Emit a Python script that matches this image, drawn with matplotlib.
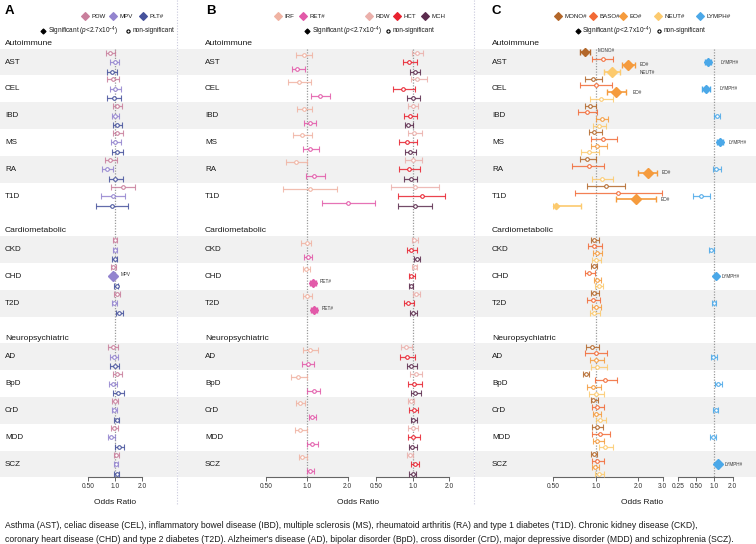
import matplotlib
matplotlib.use('Agg')
import matplotlib.pyplot as plt
import numpy as np

plt.rcParams['font.family'] = ['Liberation Sans', 'DejaVu Sans']
plt.rcParams['mathtext.fontset'] = 'custom'
plt.rcParams['mathtext.rm'] = 'Liberation Sans'
plt.rcParams['mathtext.it'] = 'Liberation Sans:italic'

# ---------------- data ----------------
diseases = ['AST', 'CEL', 'IBD', 'MS', 'RA', 'T1D', 'CKD', 'CHD', 'T2D',
            'AD', 'BpD', 'CrD', 'MDD', 'SCZ']
groups = ['Autoimmune', 'Cardiometabolic', 'Neuropsychiatric']
group_of = [0, 0, 0, 0, 0, 0, 1, 1, 1, 2, 2, 2, 2, 2]

PDW_or = [0.88, 0.96, 1.04, 1.06, 0.88, 1.22, 1.00, 0.94, 1.04, 0.96, 1.04, 1.00, 0.98, 1.03]
PDW_lo = [0.79, 0.81, 0.96, 0.96, 0.77, 0.90, 0.94, 0.90, 0.98, 0.84, 0.96, 0.93, 0.90, 0.97]
PDW_hi = [1.00, 1.12, 1.20, 1.22, 1.04, 1.69, 1.06, 1.03, 1.14, 1.09, 1.19, 1.07, 1.09, 1.11]
MPV_or = [1.00, 1.00, 1.00, 1.00, 0.81, 0.96, 1.00, 0.94, 0.98, 0.97, 0.96, 0.98, 0.90, 1.03]
MPV_lo = [0.88, 0.89, 0.92, 0.90, 0.71, 0.70, 0.94, 0.915, 0.93, 0.88, 0.86, 0.93, 0.84, 0.97]
MPV_hi = [1.11, 1.18, 1.11, 1.16, 0.96, 1.30, 1.06, 0.965, 1.06, 1.09, 1.06, 1.04, 1.00, 1.09]
PLT_or = [0.92, 0.98, 1.04, 1.04, 1.00, 0.92, 1.00, 1.04, 1.10, 1.00, 1.09, 1.04, 1.12, 1.04]
PLT_lo = [0.81, 0.81, 0.96, 0.93, 0.86, 0.61, 0.92, 0.98, 1.02, 0.88, 0.96, 0.97, 1.01, 0.97]
PLT_hi = [1.06, 1.17, 1.19, 1.24, 1.22, 1.41, 1.06, 1.09, 1.22, 1.12, 1.26, 1.12, 1.26, 1.12]

IRF_or = [0.955, 0.88, 0.95, 0.93, 0.83, 1.05, 1.00, 0.98, 1.00, 1.05, 0.86, 0.90, 0.90, 0.93]
IRF_lo = [0.84, 0.73, 0.85, 0.79, 0.70, 0.67, 0.91, 0.94, 0.94, 0.94, 0.77, 0.83, 0.82, 0.88]
IRF_hi = [1.10, 1.08, 1.09, 1.10, 1.00, 1.67, 1.08, 1.05, 1.09, 1.21, 1.00, 0.97, 1.01, 1.00]
RET_or = [0.85, 1.26, 1.05, 1.06, 1.14, 2.01, 1.02, 1.11, 1.13, 1.02, 1.13, 1.10, 1.10, 1.05]
RET_lo = [0.78, 1.07, 0.95, 0.94, 0.98, 1.30, 0.95, 1.06, 1.07, 0.92, 1.01, 1.04, 1.00, 1.00]
RET_hi = [0.97, 1.49, 1.18, 1.23, 1.36, 3.16, 1.10, 1.17, 1.19, 1.14, 1.26, 1.18, 1.21, 1.13]

RDW_or = [1.08, 1.09, 1.00, 1.03, 1.01, 1.04, 1.03, 1.04, 1.07, 0.88, 1.06, 0.96, 1.00, 0.95]
RDW_lo = [0.98, 0.96, 0.91, 0.92, 0.87, 0.66, 0.98, 0.99, 1.00, 0.80, 0.95, 0.91, 0.91, 0.90]
RDW_hi = [1.21, 1.31, 1.10, 1.19, 1.19, 1.66, 1.11, 1.09, 1.15, 0.99, 1.19, 1.03, 1.10, 1.01]
HCT_or = [0.94, 0.83, 0.95, 0.90, 0.94, 1.19, 0.96, 0.96, 0.92, 0.89, 1.03, 1.03, 1.01, 1.04]
HCT_lo = [0.83, 0.68, 0.85, 0.77, 0.77, 0.76, 0.89, 0.93, 0.85, 0.78, 0.91, 0.94, 0.91, 0.97]
HCT_hi = [1.09, 1.04, 1.09, 1.08, 1.15, 1.86, 1.08, 1.04, 1.03, 1.05, 1.20, 1.11, 1.15, 1.13]
MCH_or = [1.04, 1.01, 0.92, 0.95, 0.96, 1.04, 1.08, 0.96, 1.01, 0.97, 1.05, 1.01, 0.99, 1.00]
MCH_lo = [0.95, 0.89, 0.86, 0.86, 0.85, 0.75, 1.03, 0.94, 0.95, 0.90, 0.97, 0.96, 0.94, 0.94]
MCH_hi = [1.14, 1.16, 1.00, 1.07, 1.09, 1.44, 1.15, 1.01, 1.09, 1.08, 1.17, 1.08, 1.08, 1.06]

MONO_or = [0.84, 0.955, 0.91, 0.98, 0.87, 1.19, 0.98, 0.98, 0.98, 0.94, 0.86, 0.965, 1.02, 0.98]
MONO_lo = [0.78, 0.84, 0.84, 0.89, 0.77, 0.87, 0.93, 0.92, 0.92, 0.86, 0.81, 0.92, 0.95, 0.93]
MONO_hi = [0.91, 1.11, 1.00, 1.11, 1.01, 1.62, 1.05, 1.03, 1.05, 1.05, 0.90, 1.04, 1.12, 1.03]
BASO_or = [1.12, 1.00, 0.87, 1.12, 0.89, 1.45, 0.98, 0.89, 0.955, 1.00, 1.17, 1.02, 1.08, 1.03]
BASO_lo = [0.95, 0.78, 0.75, 0.92, 0.68, 0.71, 0.88, 0.84, 0.87, 0.84, 0.99, 0.94, 0.94, 0.95]
BASO_hi = [1.34, 1.30, 1.02, 1.41, 1.15, 2.95, 1.11, 0.99, 1.08, 1.20, 1.41, 1.14, 1.27, 1.14]
EO_or = [1.71, 1.40, 1.11, 1.03, 2.35, 1.94, 1.02, 1.02, 1.01, 1.01, 0.965, 1.01, 1.03, 0.99]
EO_lo = [1.53, 1.20, 1.01, 0.92, 2.01, 1.40, 0.96, 0.98, 0.95, 0.91, 0.87, 0.96, 0.96, 0.94]
EO_hi = [1.91, 1.65, 1.23, 1.20, 2.75, 2.69, 1.11, 1.09, 1.09, 1.14, 1.09, 1.09, 1.14, 1.06]
NEUT_or = [1.30, 1.09, 1.05, 0.90, 1.11, 0.52, 1.01, 1.05, 0.98, 1.03, 1.00, 1.08, 1.17, 1.05]
NEUT_lo = [1.15, 0.91, 0.96, 0.79, 0.94, 0.50, 0.94, 0.99, 0.91, 0.93, 0.90, 1.01, 1.06, 0.99]
NEUT_hi = [1.48, 1.32, 1.19, 1.06, 1.32, 0.79, 1.09, 1.12, 1.08, 1.20, 1.15, 1.19, 1.32, 1.14]
LYMPH_or = [0.80, 0.73, 1.09, 1.24, 1.07, 0.60, 0.88, 1.07, 0.99, 0.96, 1.16, 1.07, 0.96, 1.14]
LYMPH_lo = [0.70, 0.62, 1.00, 1.12, 0.94, 0.45, 0.82, 1.02, 0.93, 0.87, 1.03, 0.96, 0.85, 1.08]
LYMPH_hi = [0.87, 0.85, 1.24, 1.41, 1.27, 0.85, 1.00, 1.12, 1.07, 1.09, 1.32, 1.16, 1.07, 1.21]

significant = {
    'MPV': ['CHD'],
    'RET#': ['CHD', 'T2D'],
    'MONO#': ['AST'],
    'EO#': ['AST', 'CEL', 'RA', 'T1D'],
    'NEUT#': ['AST', 'T1D'],
    'LYMPH#': ['AST', 'CEL', 'MS', 'CHD', 'SCZ'],
}

series_data = {
    'PDW': (PDW_or, PDW_lo, PDW_hi), 'MPV': (MPV_or, MPV_lo, MPV_hi),
    'PLT#': (PLT_or, PLT_lo, PLT_hi), 'IRF': (IRF_or, IRF_lo, IRF_hi),
    'RET#': (RET_or, RET_lo, RET_hi), 'RDW': (RDW_or, RDW_lo, RDW_hi),
    'HCT': (HCT_or, HCT_lo, HCT_hi), 'MCH': (MCH_or, MCH_lo, MCH_hi),
    'MONO#': (MONO_or, MONO_lo, MONO_hi), 'BASO#': (BASO_or, BASO_lo, BASO_hi),
    'EO#': (EO_or, EO_lo, EO_hi), 'NEUT#': (NEUT_or, NEUT_lo, NEUT_hi),
    'LYMPH#': (LYMPH_or, LYMPH_lo, LYMPH_hi),
}

caption = ("Asthma (AST), celiac disease (CEL), inflammatory bowel disease (IBD), multiple sclerosis (MS), "
           "rheumatoid arthritis (RA) and type 1 diabetes (T1D). Chronic kidney disease (CKD),\n"
           "coronary heart disease (CHD) and type 2 diabetes (T2D). Alzheimer's disease (AD), bipolar disorder (BpD), "
           "cross disorder (CrD), major depressive disorder (MDD) and schizophrenia (SCZ).")

# ---------------- styles ----------------
colors = {
    'PDW': '#c97f9c', 'MPV': '#9384cf', 'PLT#': '#46529c',
    'IRF': '#f0b3a3', 'RET#': '#e25aa9', 'RDW': '#ebb0ab', 'HCT': '#e8222f', 'MCH': '#5b2b4d',
    'MONO#': '#b3672a', 'BASO#': '#f26a36', 'EO#': '#f59b3d', 'NEUT#': '#fcca6e', 'LYMPH#': '#4ba8e8',
}
sig_size = {('MPV', 'CHD'): 5.0, ('RET#', 'CHD'): 4.2, ('RET#', 'T2D'): 4.2,
            ('MONO#', 'AST'): 3.8, ('EO#', 'AST'): 5.0, ('EO#', 'CEL'): 4.6, ('EO#', 'RA'): 4.8,
            ('EO#', 'T1D'): 4.6, ('NEUT#', 'AST'): 4.6, ('NEUT#', 'T1D'): 3.2,
            ('LYMPH#', 'AST'): 3.8, ('LYMPH#', 'CEL'): 3.8, ('LYMPH#', 'MS'): 4.0,
            ('LYMPH#', 'CHD'): 4.2, ('LYMPH#', 'SCZ'): 4.6}
# (series, disease, text, dx px from upper CI, dy px)
point_labels = [
    ('MPV', 'CHD', 'MPV', 7, -2),
    ('RET#', 'CHD', 'RET#', 4, -2), ('RET#', 'T2D', 'RET#', 5, -2),
    ('MONO#', 'AST', 'MONO#', 8, -1), ('EO#', 'AST', 'EO#', 4, -1),
    ('NEUT#', 'AST', 'NEUT#', 20, 1), ('EO#', 'CEL', 'EO#', 6, 0),
    ('EO#', 'RA', 'EO#', 4, 0), ('EO#', 'T1D', 'EO#', 5, 0),
    ('LYMPH#', 'AST', 'LYMPH#', 10, 0), ('LYMPH#', 'CEL', 'LYMPH#', 10, 0),
    ('LYMPH#', 'MS', 'LYMPH#', 5, 0), ('LYMPH#', 'CHD', 'LYMPH#', 4, 0),
    ('LYMPH#', 'SCZ', 'LYMPH#', 5, 0),
]

subplots = [
    dict(series=['PDW', 'MPV', 'PLT#'], x0=80, x1=152, c=115.0, ppd=27.0,
         ticks=[0.5, 1, 2], tl=['0.50', '1.0', '2.0'], off=[-9.5, 0, 9.5]),
    dict(series=['IRF', 'RET#'], x0=255, x1=382, c=306.7, ppd=41.0,
         ticks=[0.5, 1, 2], tl=['0.50', '1.0', '2.0'], off=[-7, 7]),
    dict(series=['RDW', 'HCT', 'MCH'], x0=372, x1=456, c=412.7, ppd=36.3,
         ticks=[0.5, 1, 2], tl=['0.50', '1.0', '2.0'], off=[-9.5, 0, 9.5]),
    dict(series=['MONO#', 'BASO#', 'EO#', 'NEUT#'], x0=553.3, x1=668, c=595.5, ppd=42.4,
         ticks=[0.5, 1, 2, 3], tl=['0.50', '1.0', '2.0', '3.0'], off=[-10, -3.4, 3.4, 10]),
    dict(series=['LYMPH#'], x0=674, x1=737, c=714.3, ppd=18.3,
         ticks=[0.25, 0.5, 1, 2], tl=['0.25', '0.50', '1.0', '2.0'], off=[0]),
]

W, H = 756, 544
ROW0, ROWH = 62.0, 26.8
Y_TOP, Y_AX = 40.0, 477.0
slots = [i + group_of[i] for i in range(len(diseases))]
row_y = [ROW0 + ROWH * s for s in slots]

fig = plt.figure(figsize=(W / 100, H / 100), dpi=100)
bg = fig.add_axes([0, 0, 1, 1])
bg.set_xlim(0, W)
bg.set_ylim(H, 0)
bg.axis('off')

panel_span = {'A': (0, 176.5), 'B': (178, 474), 'C': (475, 756)}
label_x = {'A': 5, 'B': 205, 'C': 492}
TXT = '#1a1a1a'

# bands and labels
for p, (xa, xb) in panel_span.items():
    local = 0
    for i, d in enumerate(diseases):
        if i > 0 and group_of[i] != group_of[i - 1]:
            local = 0
        if local % 2 == 0:
            bg.add_patch(plt.Rectangle((xa, row_y[i] - ROWH / 2), xb - xa, ROWH,
                                       facecolor='#f1f1f1', edgecolor='none', zorder=0))
        bg.text(label_x[p], row_y[i], d, fontsize=5.8, va='center', ha='left', color=TXT)
        local += 1
    for g, name in enumerate(groups):
        first = group_of.index(g)
        bg.text(label_x[p], row_y[first] - 0.7 * ROWH, name, fontsize=6.1, va='center',
                ha='left', color=TXT)

# separators
for xs in (176.7, 474.0):
    bg.plot([xs, xs], [0, 505], ls=(0, (1, 1.5)), color='#c9c9dc', lw=0.8)

# panel letters
for p, xx in (('A', 5), ('B', 206), ('C', 492)):
    bg.text(xx, 11, p, fontsize=9.5, fontweight='bold', va='center', ha='left', color='black')

# legends
def leg_item(x, y, name, marker='D', ms=4.0, color='k', mfc=None, gap=6.5, fs=4.2):
    bg.plot([x], [y], marker=marker, ms=ms, color=color, mfc=mfc if mfc else color,
            mec=color, mew=0.8, ls='none')
    bg.text(x + gap, y, name, fontsize=fs, va='center', ha='left', color=TXT)

for name, x in (('PDW', 85), ('MPV', 113), ('PLT#', 143),
                ('IRF', 278), ('RET#', 303), ('RDW', 369), ('HCT', 397), ('MCH', 425),
                ('MONO#', 558), ('BASO#', 593), ('EO#', 623), ('NEUT#', 658), ('LYMPH#', 700)):
    leg_item(x, 16, name, color=colors[name], gap=6.5, fs=4.4)

sig_txt = r'Significant ($p$<2.7x10$^{-4}$)'
for xd, xc in ((43, 128), (307, 388), (578, 659)):
    leg_item(xd, 31, sig_txt, ms=2.6, color='black', gap=4.5, fs=4.7)
    leg_item(xc, 31, 'non-significant', marker='o', ms=2.3, color='black', mfc='white',
             gap=4.5, fs=4.7)

# forest subplots
bot = 1 - Y_AX / H
hgt = (Y_AX - Y_TOP) / H
for sp in subplots:
    ax = fig.add_axes([sp['x0'] / W, bot, (sp['x1'] - sp['x0']) / W, hgt])
    ax.patch.set_visible(False)
    ax.set_xscale('log')
    ax.set_xlim(2 ** ((sp['x0'] - sp['c']) / sp['ppd']), 2 ** ((sp['x1'] - sp['c']) / sp['ppd']))
    ax.set_ylim(Y_AX, Y_TOP)
    for s in ('top', 'left', 'right'):
        ax.spines[s].set_visible(False)
    ax.spines['bottom'].set_bounds(sp['ticks'][0], sp['ticks'][-1])
    ax.spines['bottom'].set_color('#666666')
    ax.spines['bottom'].set_linewidth(0.8)
    ax.set_yticks([])
    ax.xaxis.set_minor_locator(matplotlib.ticker.NullLocator())
    ax.set_xticks(sp['ticks'])
    ax.set_xticklabels(sp['tl'])
    ax.tick_params(axis='x', length=3, width=0.7, color='#666666', labelsize=4.8,
                   pad=1.5, labelcolor='#333333')
    ax.plot([1, 1], [row_y[0] - ROWH / 2, Y_AX], ls=(0, (1, 1.2)), color='#9a9a9a',
            lw=0.9, zorder=1)
    for s_name, off in zip(sp['series'], sp['off']):
        orv, lo, hi = series_data[s_name]
        col = colors[s_name]
        for i, d in enumerate(diseases):
            y = row_y[i] + off
            sig = d in significant.get(s_name, [])
            ax.errorbar([orv[i]], [y], xerr=[[orv[i] - lo[i]], [hi[i] - orv[i]]], fmt='none',
                        ecolor=col, elinewidth=1.2 if sig else 0.9, capsize=1.9,
                        capthick=1.0 if sig else 0.8, alpha=1.0 if sig else 0.85, zorder=3)
            if sig:
                ax.plot([orv[i]], [y], marker='D', ms=sig_size.get((s_name, d), 4.2),
                        color=col, mec=col, ls='none', zorder=4, clip_on=False)
            else:
                ax.plot([orv[i]], [y], marker='o', ms=2.6, mfc='white', mec=col, mew=0.75,
                        ls='none', zorder=4)
        for (ls_, ld, txt, dx, dy) in point_labels:
            if ls_ == s_name:
                i = diseases.index(ld)
                xh = hi[i] * 2 ** (dx / sp['ppd'])
                ax.text(xh, row_y[i] + off + dy, txt, fontsize=3.3, va='center', ha='left',
                        color='#333333', clip_on=False)

# axis titles
for xx in (115, 358, 642):
    bg.text(xx, 503, 'Odds Ratio', fontsize=6, ha='center', va='center', color=TXT)

bg.text(5, 532.5, caption, fontsize=6.25, ha='left', va='center', color=TXT, linespacing=1.65)

fig.savefig('out.png', dpi=100)
